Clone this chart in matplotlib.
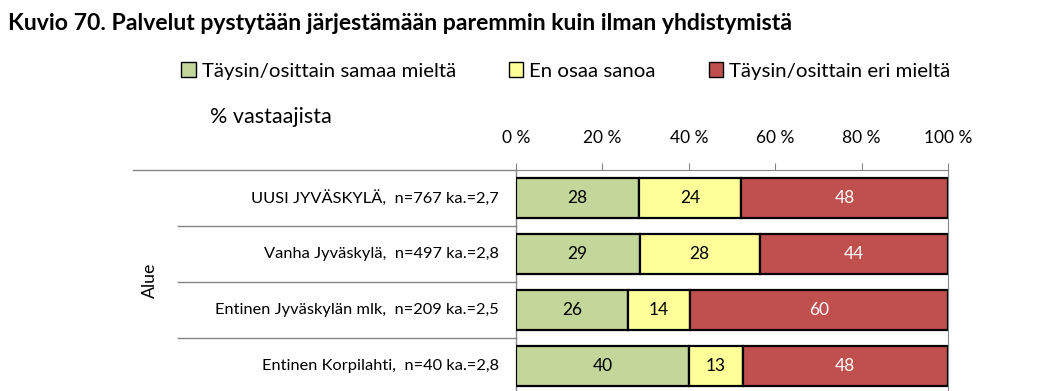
import matplotlib
matplotlib.use("Agg")
import matplotlib.pyplot as plt
from matplotlib.patches import Patch
from matplotlib.lines import Line2D
import numpy as np

# ---- data ----
categories = [
    "UUSI JYVÄSKYLÄ,  n=767 ka.=2,7",
    "Vanha Jyväskylä,  n=497 ka.=2,8",
    "Entinen Jyväskylän mlk,  n=209 ka.=2,5",
    "Entinen Korpilahti,  n=40 ka.=2,8",
]
series_names = ["Täysin/osittain samaa mieltä", "En osaa sanoa", "Täysin/osittain eri mieltä"]
agree = [28.4, 28.6, 25.9, 40.0]
neutral = [23.7, 27.8, 14.4, 12.5]
disagree = [47.9, 43.6, 59.7, 47.5]
agree_labels = [28, 29, 26, 40]
neutral_labels = [24, 28, 14, 13]
disagree_labels = [48, 44, 60, 48]
xticks = [0, 20, 40, 60, 80, 100]
xticklabels = ["0 %", "20 %", "40 %", "60 %", "80 %", "100 %"]

colors = ["#C4D79B", "#FFFF99", "#C0504D"]
text_colors = ["black", "black", "white"]

FONT = "Lato"
plt.rcParams["font.family"] = [FONT, "DejaVu Sans"]

W, H = 1047, 391
fig = plt.figure(figsize=(W / 100, H / 100), dpi=100)
fig.patch.set_facecolor("white")

ax_left, ax_right = 516 / W, 948 / W
ax_top = 1 - 170 / H
ax_h = 224 / H
ax = fig.add_axes([ax_left, ax_top - ax_h, ax_right - ax_left, ax_h])

y = np.arange(len(categories))
values = [agree, neutral, disagree]
labels = [agree_labels, neutral_labels, disagree_labels]
left = np.zeros(len(categories))
for vals, labs, c, tc, name in zip(values, labels, colors, text_colors, series_names):
    bars = ax.barh(y, vals, left=left, height=0.73, color=c, edgecolor="black",
                   linewidth=1.6, label=name, zorder=3)
    for b, lab in zip(bars, labs):
        ax.text(b.get_x() + b.get_width() / 2, b.get_y() + b.get_height() / 2,
                f"{lab}", ha="center", va="center", color=tc, fontsize=12.5, zorder=4)
    left += np.array(vals)

ax.set_xlim(0, 100)
ax.set_ylim(3.5, -0.5)
ax.xaxis.tick_top()
ax.set_xticks(xticks)
ax.set_xticklabels(xticklabels, fontsize=12.5)
ax.tick_params(axis="x", direction="out", length=5, color="#868686", pad=12)
ax.set_yticks([])
ax.spines["bottom"].set_visible(False)
ax.spines["top"].set_color("#868686")
ax.spines["right"].set_color("#868686")
ax.spines["left"].set_color("#868686")
ax.spines["left"].set_linewidth(1.0)

# category labels
for yi, cat in zip(y, categories):
    ax.text(-0.04, yi, cat, transform=ax.get_yaxis_transform(), ha="right", va="center",
            fontsize=11.8)

# category separator lines (multi-level axis)
trans = ax.get_yaxis_transform()
for i, b in enumerate(np.arange(-0.5, len(categories), 1.0)):
    x0 = (133 - 516) / 432 if i == 0 else (178 - 516) / 432
    ax.add_line(Line2D([x0, 0], [b, b], transform=trans, color="#868686", lw=1.0, clip_on=False))

fig.text(150 / W, 1 - 280 / H, "Alue", rotation=90, ha="center", va="center", fontsize=12.8)

fig.text(8 / W, 1 - 23 / H, "Kuvio 70. Palvelut pystytään järjestämään paremmin kuin ilman yhdistymistä",
         fontsize=16.6, fontweight="bold", ha="left", va="center")
fig.text(210 / W, 1 - 117 / H, "% vastaajista", fontsize=15.5, ha="left", va="center")

handles = [Patch(facecolor=c, edgecolor="black", linewidth=1.0) for c in colors]
fig.legend(handles, series_names, loc="center", bbox_to_anchor=(566 / W, 1 - 71 / H), ncol=3,
           frameon=False, fontsize=14.7, handlelength=0.7, handleheight=0.7, handletextpad=0.3,
           columnspacing=2.6, borderaxespad=0)

fig.savefig("out.png", dpi=100, facecolor="white")
